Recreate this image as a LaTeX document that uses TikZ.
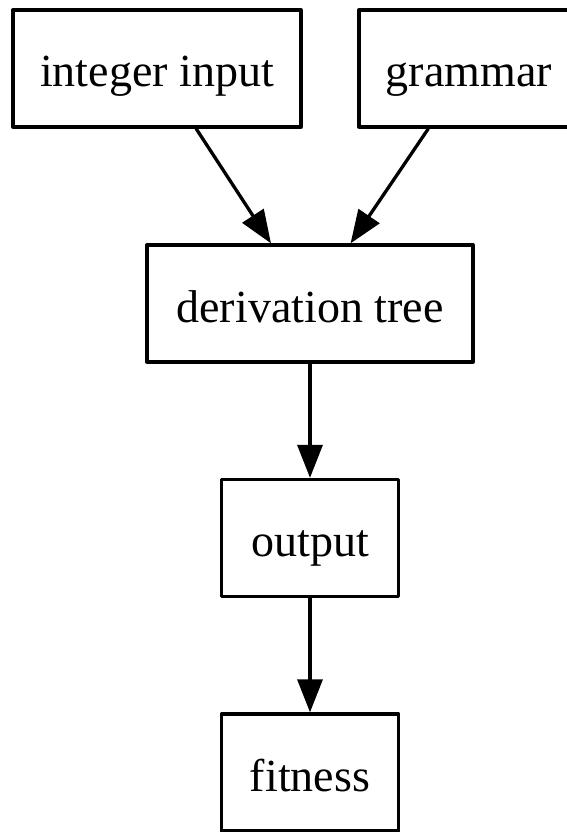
\documentclass[tikz,border=0pt]{standalone}
\usepackage{fontspec}
\setmainfont{Liberation Serif}
\usetikzlibrary{arrows.meta}

\begin{document}
\begin{tikzpicture}[x=1pt,y=-1pt,
  box/.style={draw, line width=3.3pt, line join=round, rectangle,
    minimum height=117pt, inner sep=0pt,
    text height=37pt, text depth=0pt,
    font=\fontsize{46}{55}\selectfont},
  flow/.style={line width=3.3pt,
    -{Triangle[length=33pt,width=25pt]}}]
  \useasboundingbox (0,0) rectangle (566,832);

  \node[box, minimum width=288pt] (int) at (157,68.5) {integer input};
  \node[box, minimum width=220pt] (gram) at (469,68.5) {grammar};
  \node[box, minimum width=326pt] (der) at (310,303.5) {derivation tree};
  \node[box, minimum width=177pt] (out) at (310,538) {output};
  \node[box, minimum width=177pt] (fit) at (310,772.5) {fitness};

  \draw[flow] (int) -- (der);
  \draw[flow] (gram) -- (der);
  \draw[flow] (der) -- (out);
  \draw[flow] (out) -- (fit);
\end{tikzpicture}
\end{document}
